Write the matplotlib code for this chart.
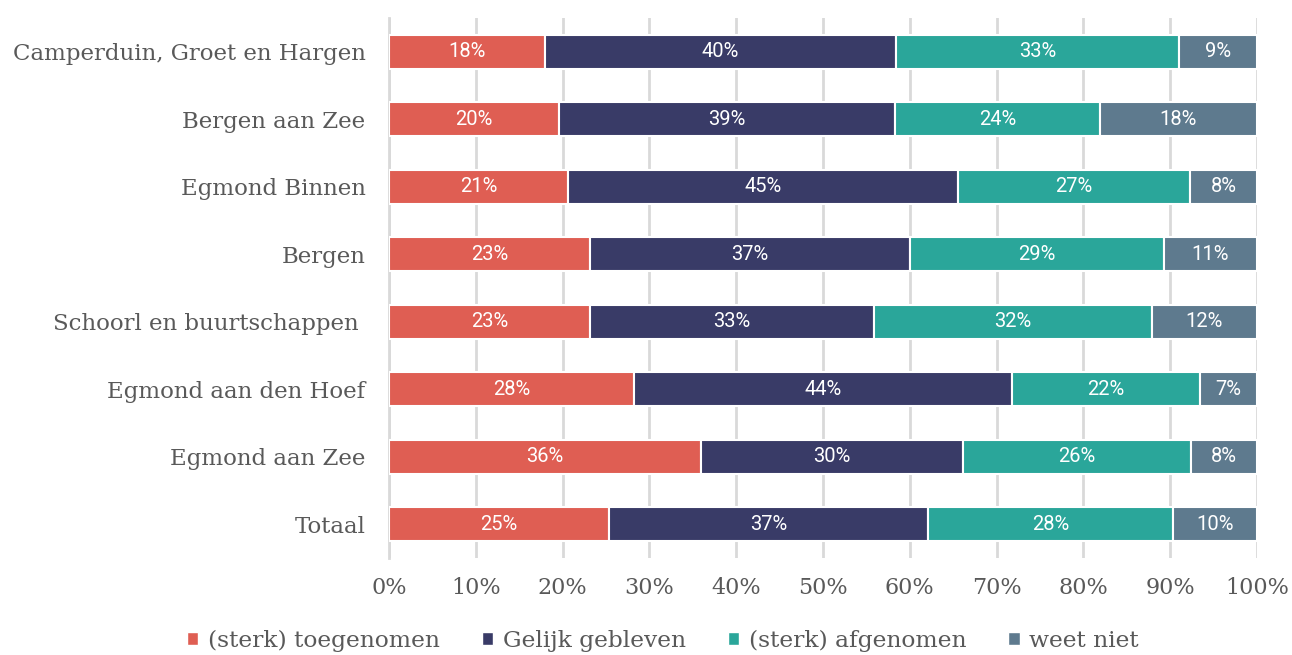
import numpy as np
import matplotlib.pyplot as plt
from matplotlib.patches import Patch

# Kernen (top to bottom)
kernen = ["Camperduin, Groet en Hargen", "Bergen aan Zee", "Egmond Binnen", "Bergen",
          "Schoorl en buurtschappen ", "Egmond aan den Hoef", "Egmond aan Zee", "Totaal"]

# shares per answer (percent)
toegenomen = [18.0, 19.6, 20.6, 23.1, 23.1, 28.2, 35.9, 25.3]
gelijk = [40.4, 38.7, 44.9, 36.9, 32.8, 43.6, 30.2, 36.8]
afgenomen = [32.6, 23.6, 26.8, 29.3, 32.0, 21.6, 26.3, 28.2]
weet_niet = [9.0, 18.1, 7.7, 10.7, 12.1, 6.6, 7.6, 9.7]

series = ["(sterk) toegenomen", "Gelijk gebleven", "(sterk) afgenomen", "weet niet"]
colors = ["#DF5E53", "#393B67", "#2AA69A", "#5E7A8E"]

label_font = "DejaVu Serif"
text_grey = "#595959"

fig = plt.figure(figsize=(12.92, 6.55), dpi=100)
ax = fig.add_axes([389 / 1292, 1 - 558 / 655, 868 / 1292, 540 / 655])

y = np.arange(len(kernen))
left = np.zeros(len(kernen))
for vals, col in zip([toegenomen, gelijk, afgenomen, weet_niet], colors):
    vals = np.array(vals)
    ax.barh(y, vals, left=left, height=0.51, color=col, edgecolor="white",
            linewidth=1.5, zorder=3)
    for yi, l, v in zip(y, left, vals):
        ax.text(l + v / 2, yi, "%.0f%%" % v, ha="center", va="center",
                color="white", fontsize=14.5, family="Roboto", zorder=4)
    left += vals

ax.set_xlim(0, 100)
ax.set_ylim(len(kernen) - 0.5, -0.5)
ax.set_yticks(y)
ax.set_yticklabels(kernen, family=label_font, fontsize=16.5, color=text_grey)
ax.set_xticks(np.arange(0, 101, 10))
ax.set_xticklabels(["%d%%" % t for t in range(0, 101, 10)], family=label_font,
                   fontsize=16, color=text_grey)
ax.tick_params(axis="y", length=0, pad=17)
ax.tick_params(axis="x", length=0, pad=14)

ax.grid(axis="x", color="#D9D9D9", linewidth=2, zorder=0)
for s in ["top", "right", "bottom"]:
    ax.spines[s].set_visible(False)
ax.spines["left"].set_color("#D9D9D9")
ax.spines["left"].set_linewidth(2)

handles = [Patch(facecolor=c, edgecolor="white", label=s) for s, c in zip(series, colors)]
fig.legend(handles=handles, loc="center", bbox_to_anchor=(0.513, 0.022), ncol=4,
           frameon=False, prop={"family": label_font, "size": 16.8},
           labelcolor=text_grey, handlelength=0.5, handleheight=0.5,
           handletextpad=0.4, columnspacing=1.8, borderpad=0)

fig.savefig("out.png", dpi=100, facecolor="white")
